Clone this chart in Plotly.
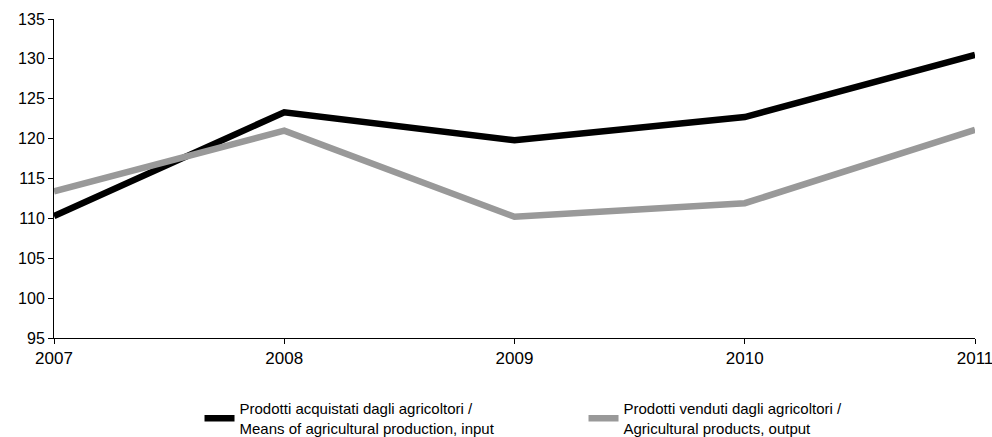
import plotly.graph_objects as go

years = [2007, 2008, 2009, 2010, 2011]
input_vals = [110.3, 123.3, 119.8, 122.7, 130.5]
output_vals = [113.4, 121.0, 110.2, 111.9, 121.1]
name_input = "Prodotti acquistati dagli agricoltori /<br>Means of agricultural production, input"
name_output = "Prodotti venduti dagli agricoltori /<br>Agricultural products, output"
y_ticks = [95, 100, 105, 110, 115, 120, 125, 130, 135]

fig = go.Figure()
fig.add_trace(go.Scatter(x=years, y=input_vals, mode="lines", name=name_input,
                         line=dict(color="#000000", width=6.5)))
fig.add_trace(go.Scatter(x=years, y=output_vals, mode="lines", name=name_output,
                         line=dict(color="#999999", width=6.5)))

fig.update_layout(
    width=992, height=437,
    margin=dict(l=54, r=17, t=19, b=99, autoexpand=False),
    plot_bgcolor="white", paper_bgcolor="white",
    font=dict(family="Liberation Sans, Arial, sans-serif", size=16, color="#000000"),
    showlegend=True,
    legend=dict(orientation="h", x=0.158, xanchor="left", y=-0.17, yanchor="top",
                font=dict(size=15), entrywidth=339, tracegroupgap=0),
    xaxis=dict(range=[2007, 2011], tickvals=years, ticktext=[str(y) for y in years],
               showgrid=False, zeroline=False, showline=True, linecolor="#000000", linewidth=1,
               ticks="outside", ticklen=5, tickcolor="#000000", ticklabeloverflow="allow",
               tickfont=dict(size=17)),
    yaxis=dict(range=[95, 135], tickvals=y_ticks, showgrid=False, zeroline=False,
               showline=True, linecolor="#000000", linewidth=1,
               ticks="outside", ticklen=5, tickcolor="#000000", tickfont=dict(size=16)),
)
fig.write_html("out.html", config={"displayModeBar": False},
               post_script="document.body.style.margin='0px';document.body.style.overflow='hidden';")
